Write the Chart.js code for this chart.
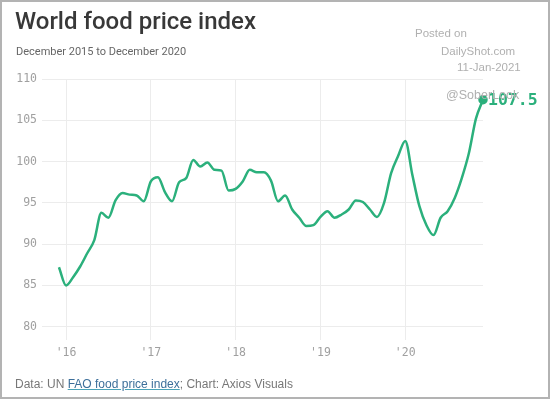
<!DOCTYPE html>
<html>
<head>
<meta charset="utf-8">
<script src="https://cdn.jsdelivr.net/npm/chart.js@4"></script>
<style>
    html, body { margin:0; padding:0; background:#fff; }
    #frame { position:absolute; left:0; top:0; width:546px; height:395px; border:2px solid #b3b3b3; overflow:hidden; }
    #chart { position:absolute; left:-2px; top:-2px; }
    .txt { position:absolute; white-space:nowrap; }
    #title { left:13px; top:5px; font-family:Roboto, sans-serif; font-size:24px; font-weight:500; color:#383838; }
    #subtitle { left:14px; top:43px; font-family:Roboto, sans-serif; font-size:11px; font-weight:400; color:#666; }
    #footer { left:13px; top:375px; font-family:"Liberation Sans", Arial, sans-serif; font-size:12px; color:#777; }
    #footer a { color:#3d6f9a; text-decoration:underline; text-decoration-color:#4aa3b8; }
    .wm { font-family:"Liberation Sans", Arial, sans-serif; font-size:11.5px; color:#b0b0b0; }
</style>
</head>
<body>
<div id="frame">
    <canvas id="chart" width="550" height="399"></canvas>
    <div class="txt" id="title">World food price index</div>
    <div class="txt" id="subtitle">December 2015 to December 2020</div>
    <div class="txt wm" style="left:413px;top:25px;">Posted on</div>
    <div class="txt wm" style="left:439px;top:43px;">DailyShot.com</div>
    <div class="txt wm" style="left:455px;top:59px;">11-Jan-2021</div>
    <div class="txt wm" style="left:444px;top:86px;font-size:12.5px;">@SoberLook</div>
    <div class="txt" id="footer">Data: UN <a>FAO food price index</a>; Chart: Axios Visuals</div>
</div>
<script>
// FAO food price index, monthly, Dec 2015 - Dec 2020
var meses = [
    '2015-12',
    '2016-01','2016-02','2016-03','2016-04','2016-05','2016-06','2016-07','2016-08','2016-09','2016-10','2016-11','2016-12',
    '2017-01','2017-02','2017-03','2017-04','2017-05','2017-06','2017-07','2017-08','2017-09','2017-10','2017-11','2017-12',
    '2018-01','2018-02','2018-03','2018-04','2018-05','2018-06','2018-07','2018-08','2018-09','2018-10','2018-11','2018-12',
    '2019-01','2019-02','2019-03','2019-04','2019-05','2019-06','2019-07','2019-08','2019-09','2019-10','2019-11','2019-12',
    '2020-01','2020-02','2020-03','2020-04','2020-05','2020-06','2020-07','2020-08','2020-09','2020-10','2020-11','2020-12'
];
var indice = [
    87.2,
    85.0, 86.0, 87.3, 88.9, 90.5, 93.8, 93.2, 95.3, 96.2, 96.0, 95.9, 95.2,
    97.6, 98.1, 96.3, 95.2, 97.5, 98.0, 100.2, 99.4, 99.9, 99.0, 98.9, 96.5,
    96.7, 97.6, 99.0, 98.7, 98.7, 97.7, 95.2, 95.9, 94.2, 93.2, 92.2, 92.3,
    93.3, 94.0, 93.2, 93.6, 94.2, 95.3, 95.1, 94.2, 93.3, 95.0, 98.6, 100.7,
    102.5, 98.4, 94.6, 92.3, 91.1, 93.2, 94.0, 95.6, 98.0, 101.0, 105.2, 107.5
];
var ticksX = ['2016-01','2017-01','2018-01','2019-01','2020-01'];
var etiquetasX = ["'16","'17","'18","'19","'20"];
var ticksY = [80, 85, 90, 95, 100, 105, 110];

var verde = '#2bb07c';
var puntos = indice.map(function (v, i) { return {x: i, y: v}; });
var radios = indice.map(function (v, i) { return i === indice.length - 1 ? 3.5 : 0; });

var etiquetaFinal = {
    id: 'etiquetaFinal',
    afterDatasetsDraw: function (chart) {
        var ctx = chart.ctx;
        var i = indice.length - 1;
        var x = chart.scales.x.getPixelForValue(i);
        var y = chart.scales.y.getPixelForValue(indice[i]);
        ctx.save();
        ctx.fillStyle = verde;
        ctx.font = 'bold 16.5px "DejaVu Sans Mono", monospace';
        ctx.textBaseline = 'middle';
        ctx.fillText(indice[i].toFixed(1), x + 5, y + 1);
        ctx.restore();
    }
};

var canvas = document.getElementById('chart').getContext('2d');
var grafica = new Chart(canvas, {
    type: 'line',
    data: {
        datasets: [{
            data: puntos,
            borderColor: verde,
            backgroundColor: verde,
            borderWidth: 2.5,
            pointRadius: radios,
            pointHoverRadius: 0,
            cubicInterpolationMode: 'monotone',
            clip: false,
            fill: false
        }]
    },
    options: {
        responsive: false,
        animation: false,
        events: [],
        layout: { padding: { top: 79, right: 67, bottom: 35, left: 0 } },
        plugins: { legend: { display: false }, tooltip: { enabled: false } },
        scales: {
            x: {
                type: 'linear',
                min: -2.4,
                max: 60,
                afterBuildTicks: function (scale) {
                    scale.ticks = ticksX.map(function (m) { return {value: meses.indexOf(m)}; });
                },
                afterFit: function (scale) { scale.height = 24; },
                ticks: {
                    autoSkip: false,
                    maxRotation: 0,
                    padding: 6,
                    color: '#a0a0a0',
                    font: { family: '"DejaVu Sans Mono", monospace', size: 11.5 },
                    callback: function (v) { return etiquetasX[ticksX.indexOf(meses[v])]; }
                },
                grid: { color: '#ececec', lineWidth: 1, drawTicks: false },
                border: { display: false }
            },
            y: {
                min: 78.4,
                max: 110,
                afterBuildTicks: function (scale) {
                    scale.ticks = ticksY.map(function (v) { return {value: v}; });
                },
                afterFit: function (scale) { scale.width = 42; },
                ticks: {
                    padding: 5,
                    color: '#a0a0a0',
                    font: { family: '"DejaVu Sans Mono", monospace', size: 11.5 }
                },
                grid: { color: '#ececec', lineWidth: 1, drawTicks: false },
                border: { display: false }
            }
        }
    },
    plugins: [etiquetaFinal]
});
</script>
</body>
</html>
